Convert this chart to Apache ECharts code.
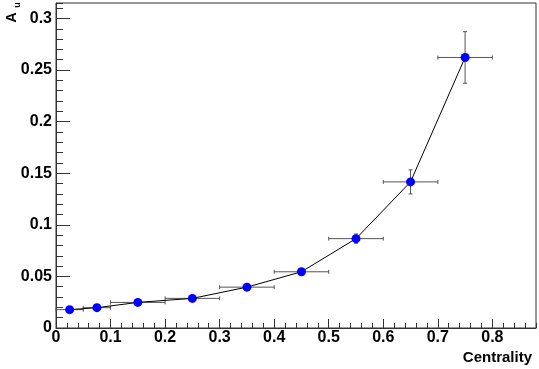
<!DOCTYPE html>
<html>
<head>
<meta charset="utf-8">
<script src="https://cdn.jsdelivr.net/npm/echarts@6/dist/echarts.min.js"></script>
<style>
html,body{margin:0;padding:0;background:#fff;}
#chart{width:539px;height:369px;}
</style>
</head>
<body>
<div id="chart"></div>
<script>
// Data
var centrality    = [0.025, 0.075, 0.15, 0.25, 0.35, 0.45, 0.55, 0.65, 0.75];
var centralityErr = [0.025, 0.025, 0.05, 0.05, 0.05, 0.05, 0.05, 0.05, 0.05];
var au            = [0.0178, 0.0197, 0.0248, 0.0287, 0.0396, 0.0545, 0.0866, 0.1416, 0.2622];
var auErr         = [0.0008, 0.0009, 0.0012, 0.0015, 0.0018, 0.0025, 0.0045, 0.0117, 0.025];
var xTitle = 'Centrality';
var yTitle = 'A';
var ySub = 'u';

var X_MIN = 0, X_MAX = 0.88, Y_MIN = 0, Y_MAX = 0.315;
var GRID = {left: 56, top: 3, width: 480, height: 325};
var FONT = '"Liberation Sans", Arial, Helvetica, sans-serif';

var points = centrality.map(function (x, i) { return [x, au[i]]; });
var errData = centrality.map(function (x, i) { return [x, au[i], centralityErr[i], auErr[i]]; });

var chart = echarts.init(document.getElementById('chart'), null, {renderer: 'canvas'});

function renderErr(params, api) {
  var x = api.value(0), y = api.value(1), ex = api.value(2), ey = api.value(3);
  var c = api.coord([x, y]);
  var l = api.coord([x - ex, y]);
  var r = api.coord([x + ex, y]);
  var t = api.coord([x, y + ey]);
  var b = api.coord([x, y - ey]);
  var st = {stroke: '#555', lineWidth: 1};
  var cap = 2;
  var children = [
    {type: 'line', shape: {x1: l[0], y1: c[1], x2: r[0], y2: c[1]}, style: st},
    {type: 'line', shape: {x1: l[0], y1: c[1] - cap, x2: l[0], y2: c[1] + cap}, style: st},
    {type: 'line', shape: {x1: r[0], y1: c[1] - cap, x2: r[0], y2: c[1] + cap}, style: st},
    {type: 'line', shape: {x1: c[0], y1: t[1], x2: c[0], y2: b[1]}, style: st},
    {type: 'line', shape: {x1: c[0] - cap, y1: t[1], x2: c[0] + cap, y2: t[1]}, style: st},
    {type: 'line', shape: {x1: c[0] - cap, y1: b[1], x2: c[0] + cap, y2: b[1]}, style: st}
  ];
  return {type: 'group', children: children};
}

var labelStyle = {color: '#000', fontFamily: FONT, fontWeight: 'bold', fontSize: 16};
var gridBox = {left: GRID.left, top: GRID.top, width: GRID.width, height: GRID.height};

chart.setOption({
  animation: false,
  backgroundColor: '#fff',
  grid: [
    Object.assign({show: true, borderColor: '#333', borderWidth: 1, containLabel: false}, gridBox),
    Object.assign({show: false, containLabel: false}, gridBox)
  ],
  xAxis: [
    {type: 'value', gridIndex: 0, position: 'bottom', min: X_MIN, max: X_MAX, interval: 0.1,
     axisLine: {show: true, onZero: false, lineStyle: {color: '#333', width: 1}},
     axisTick: {show: true, inside: true, length: 9, lineStyle: {color: '#333'}},
     axisLabel: Object.assign({margin: 2, showMaxLabel: false, showMinLabel: true}, labelStyle),
     splitLine: {show: false}},
    {type: 'value', gridIndex: 1, position: 'bottom', min: X_MIN, max: X_MAX, interval: 0.02,
     axisLine: {show: false},
     axisTick: {show: true, inside: true, length: 5, lineStyle: {color: '#333'}},
     axisLabel: {show: false}, splitLine: {show: false}}
  ],
  yAxis: [
    {type: 'value', gridIndex: 0, position: 'left', min: Y_MIN, max: Y_MAX, interval: 0.05,
     axisLine: {show: true, onZero: false, lineStyle: {color: '#333', width: 1}},
     axisTick: {show: true, inside: true, length: 14, lineStyle: {color: '#333'}},
     axisLabel: Object.assign({margin: 4, showMaxLabel: false, showMinLabel: true}, labelStyle),
     splitLine: {show: false}},
    {type: 'value', gridIndex: 1, position: 'left', min: Y_MIN, max: Y_MAX, interval: 0.01,
     axisLine: {show: false},
     axisTick: {show: true, inside: true, length: 7, lineStyle: {color: '#333'}},
     axisLabel: {show: false}, splitLine: {show: false}}
  ],
  series: [
    {type: 'custom', xAxisIndex: 0, yAxisIndex: 0, renderItem: renderErr, data: errData, z: 2,
     encode: {x: 0, y: 1}},
    {type: 'line', xAxisIndex: 0, yAxisIndex: 0, data: points, z: 3,
     symbol: 'circle', symbolSize: 9,
     itemStyle: {color: '#0000ff', borderWidth: 0},
     lineStyle: {color: '#000', width: 1}}
  ],
  graphic: [
    {type: 'text', right: 539 - 532, top: 350,
     style: {text: xTitle, fill: '#000', font: 'bold 15px ' + FONT}},
    {type: 'text', x: 12.5, y: 17.5, rotation: Math.PI / 2,
     style: {text: yTitle, fill: '#000', font: 'bold 14px ' + FONT, align: 'center', verticalAlign: 'middle'}},
    {type: 'text', x: 17.5, y: 5, rotation: Math.PI / 2,
     style: {text: ySub, fill: '#000', font: 'bold 9px ' + FONT, align: 'center', verticalAlign: 'middle'}}
  ]
});
</script>
</body>
</html>
